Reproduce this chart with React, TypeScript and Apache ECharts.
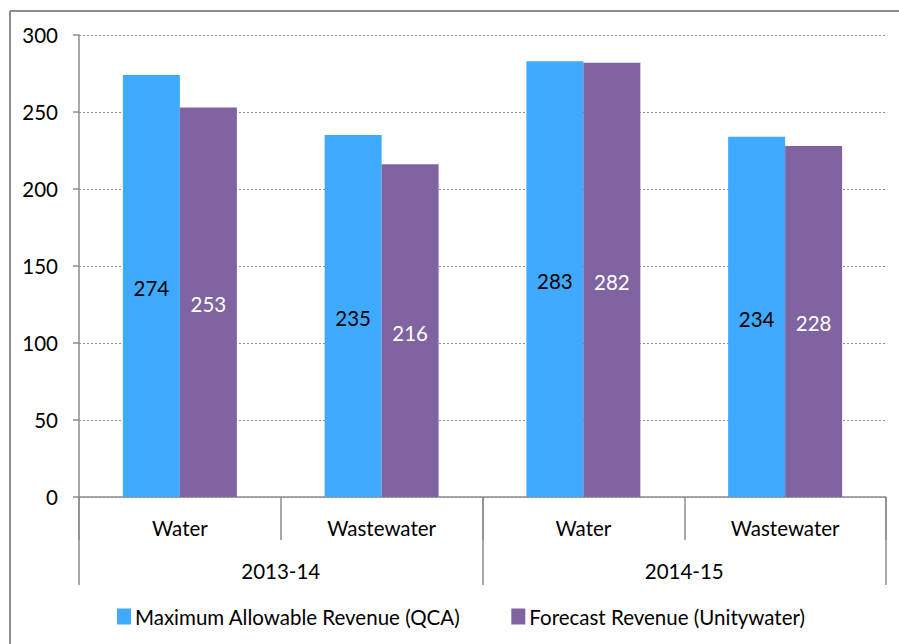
import React, { useEffect, useRef } from "react";
import * as echarts from "echarts";

const subCategories = ["Water", "Wastewater", "Water", "Wastewater"];
const groupCategories = ["2013-14", "2014-15"];
const seriesNames = ["Maximum Allowable Revenue (QCA)", "Forecast Revenue (Unitywater)"];
const qcaValues = [274, 235, 283, 234];
const forecastValues = [253, 216, 282, 228];
const yTicks = { min: 0, max: 300, interval: 50 };

const FONT = "Lato";
const FS = 20.5;

export default function App() {
  const ref = useRef<HTMLDivElement>(null);
  useEffect(() => {
    document.body.style.margin = "0";
    const chart = echarts.init(ref.current!, null, { renderer: "svg" });
    chart.setOption({
      animation: false,
      textStyle: { fontFamily: FONT },
      graphic: [
        { type: "line", shape: { x1: 10, y1: 11, x2: 899, y2: 11 }, style: { stroke: "#8c8c8c", lineWidth: 2 } },
        { type: "line", shape: { x1: 10, y1: 11, x2: 10, y2: 644 }, style: { stroke: "#8c8c8c", lineWidth: 2 } },
      ],
      grid: { left: 79, right: 13, top: 35, bottom: 147 },
      legend: {
        left: 112,
        top: 601,
        itemWidth: 14,
        itemHeight: 16,
        itemGap: 51,
        icon: "rect",
        textStyle: { fontFamily: FONT, fontSize: FS, color: "#000", padding: [0, 0, 0, -1] },
        data: seriesNames,
      },
      xAxis: [
        {
          type: "category",
          data: subCategories,
          position: "bottom",
          axisLine: { show: true, lineStyle: { color: "#8c8c8c", width: 1.5 } },
          axisTick: { show: true, length: 43, interval: 0, lineStyle: { color: "#8c8c8c", width: 1.5 } },
          axisLabel: { interval: 0, margin: 20, fontSize: FS, color: "#000", fontFamily: FONT },
        },
        {
          type: "category",
          data: groupCategories,
          position: "bottom",
          gridIndex: 0,
          axisLine: { show: false },
          axisTick: { show: true, length: 88, interval: 0, lineStyle: { color: "#8c8c8c", width: 1.5 } },
          axisLabel: { interval: 0, margin: 63, fontSize: FS, color: "#000", fontFamily: FONT },
        },
      ],
      yAxis: {
        type: "value",
        min: yTicks.min,
        max: yTicks.max,
        interval: yTicks.interval,
        axisLine: { show: true, lineStyle: { color: "#8c8c8c", width: 1.5 } },
        axisTick: { show: true, length: 6, lineStyle: { color: "#8c8c8c", width: 1.5 } },
        axisLabel: { margin: 21, fontSize: FS, color: "#000", fontFamily: FONT },
        splitLine: { show: true, lineStyle: { color: "#8c8c8c", type: [2, 2], width: 1 } },
      },
      series: [
        {
          name: seriesNames[0],
          type: "bar",
          xAxisIndex: 0,
          data: qcaValues,
          barGap: "0%",
          barCategoryGap: "43.5%",
          itemStyle: { color: "#3FAAFF" },
          label: { show: true, position: "inside", fontSize: FS, color: "#000", fontFamily: FONT, offset: [0, 2] },
        },
        {
          name: seriesNames[1],
          type: "bar",
          xAxisIndex: 0,
          data: forecastValues,
          barGap: "0%",
          barCategoryGap: "43.5%",
          itemStyle: { color: "#8064A2" },
          label: { show: true, position: "inside", fontSize: FS, color: "#fff", fontFamily: FONT, offset: [0, 2] },
        },
      ],
    });
    return () => chart.dispose();
  }, []);
  return <div ref={ref} style={{ width: 899, height: 644 }} />;
}
